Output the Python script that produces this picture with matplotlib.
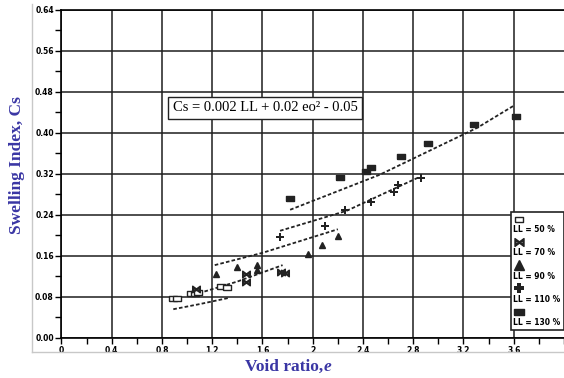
import matplotlib.pyplot as plt
from matplotlib.lines import Line2D
from matplotlib.ticker import MultipleLocator, FixedLocator

# data: void ratio e and swelling index Cs
ll50_e = [0.89, 0.92, 1.03, 1.06, 1.09, 1.27, 1.32]
ll50_cs = [0.078, 0.078, 0.088, 0.088, 0.090, 0.102, 0.099]

ll70_e = [1.07, 1.47, 1.47, 1.75, 1.78]
ll70_cs = [0.096, 0.125, 0.110, 0.129, 0.127]

ll90_e = [1.23, 1.40, 1.56, 1.56, 1.96, 2.07, 2.20]
ll90_cs = [0.124, 0.139, 0.143, 0.133, 0.164, 0.181, 0.199]

ll110_e = [1.74, 2.10, 2.26, 2.46, 2.65, 2.68, 2.86]
ll110_cs = [0.197, 0.219, 0.249, 0.265, 0.284, 0.299, 0.312]

ll130_e = [1.82, 2.22, 2.42, 2.46, 2.70, 2.92, 3.28, 3.62]
ll130_cs = [0.273, 0.314, 0.325, 0.333, 0.355, 0.381, 0.418, 0.433]

# dashed trend lines
fit50_e = [0.89, 1.10, 1.33]
fit50_cs = [0.056, 0.066, 0.078]
fit70_e = [1.05, 1.40, 1.76]
fit70_cs = [0.084, 0.110, 0.142]
fit90_e = [1.22, 1.60, 2.20]
fit90_cs = [0.142, 0.166, 0.212]
fit110_e = [1.74, 2.27, 2.85]
fit110_cs = [0.209, 0.248, 0.314]
fit130_e = [1.82, 2.53, 3.31, 3.60]
fit130_cs = [0.250, 0.318, 0.410, 0.453]

legend_labels = ['LL = 50 %', 'LL = 70 %', 'LL = 90 %', 'LL = 110 %', 'LL = 130 %']

rect = [(-1, -0.6), (1, -0.6), (1, 0.6), (-1, 0.6), (-1, -0.6)]
label_color = '#3a36a4'

fig = plt.figure(figsize=(5.64, 3.78), dpi=100)
ax = fig.add_axes([0.109, 0.106, 0.891, 0.868])

# light frame of the scanned picture
fig.add_artist(Line2D([0.057, 0.057], [0.07, 0.99], color='#c8c8c8', lw=1.0,
                      transform=fig.transFigure))
fig.add_artist(Line2D([0.057, 1.0], [0.07, 0.07], color='#c8c8c8', lw=1.0,
                      transform=fig.transFigure))

ax.set_xlim(0, 4.0)
ax.set_ylim(0, 0.64)
ax.xaxis.set_major_locator(FixedLocator([0, 0.4, 0.8, 1.2, 1.6, 2.0, 2.4, 2.8, 3.2, 3.6]))
ax.set_xticklabels(['0', '0.4', '0.8', '1.2', '1.6', '2', '2.4', '2.8', '3.2', '3.6'])
ax.xaxis.set_minor_locator(MultipleLocator(0.2))
ax.yaxis.set_major_locator(MultipleLocator(0.08))
ax.yaxis.set_minor_locator(MultipleLocator(0.04))
ax.set_yticklabels(['%.2f' % v for v in ax.get_yticks()])
ax.grid(True, which='major', color='#1e1e1e', lw=1.1)
ax.set_axisbelow(True)
ax.spines['right'].set_visible(False)
for s in ['left', 'bottom', 'top']:
    ax.spines[s].set_linewidth(1.2)
ax.tick_params(which='both', direction='out', length=4, width=1.0, pad=1.5,
               labelsize=5.5)
for lbl in ax.get_xticklabels() + ax.get_yticklabels():
    lbl.set_fontweight('bold')

dash = dict(color='#222222', lw=1.3, ls=(0, (2, 1.2)))
for fe, fc in [(fit50_e, fit50_cs), (fit70_e, fit70_cs), (fit90_e, fit90_cs),
               (fit110_e, fit110_cs), (fit130_e, fit130_cs)]:
    ax.plot(fe, fc, **dash)

ax.plot(ll50_e, ll50_cs, ls='none', marker=rect, ms=6, mfc='white', mec='#222222', mew=1.0)
ax.plot(ll70_e, ll70_cs, ls='none', marker='$\\bowtie$', ms=5.5, color='#222222')
ax.plot(ll90_e, ll90_cs, ls='none', marker='^', ms=5, color='#222222')
ax.plot(ll110_e, ll110_cs, ls='none', marker='P', ms=5.5, color='#222222', mew=0)
ax.plot(ll130_e, ll130_cs, ls='none', marker=rect, ms=6, color='#222222')

ax.text(1.62, 0.449, 'Cs = 0.002 LL + 0.02 eo² - 0.05', fontsize=10.5,
        family='Liberation Serif', ha='center', va='center',
        bbox=dict(boxstyle='square,pad=0.3', fc='white', ec='#222222', lw=1.0))

# legend drawn as in the original: symbol above each label
lx0, ly0, lx1, ly1 = 0.895, 0.024, 1.0, 0.384
ax.add_patch(plt.Rectangle((lx0, ly0), lx1 - lx0, ly1 - ly0, transform=ax.transAxes,
                           fc='white', ec='#222222', lw=1.2, zorder=5, clip_on=False))
marks = [dict(marker=rect, ms=6, mfc='white', mec='#222222'),
         dict(marker='$\\bowtie$', ms=6.5, color='#222222'),
         dict(marker='^', ms=7, color='#222222'),
         dict(marker='P', ms=6.5, color='#222222', mew=0),
         dict(marker=rect, ms=7, color='#222222')]
for i, (lab, mk) in enumerate(zip(legend_labels, marks)):
    ym = 0.364 - i * 0.071
    ax.plot([lx0 + 0.015], [ym], ls='none', transform=ax.transAxes, zorder=6,
            clip_on=False, **mk)
    ax.text(lx0 + 0.004, ym - 0.034, lab, transform=ax.transAxes, fontsize=5.5,
            fontweight='bold', ha='left', va='center', zorder=6)

fig.text(0.03, 0.563, 'Swelling Index, Cs', rotation=90, ha='center', va='center',
         family='Liberation Serif', fontweight='bold', fontsize=12.5, color=label_color)
fig.text(0.573, 0.03, 'Void ratio,', ha='right', va='center',
         family='Liberation Serif', fontweight='bold', fontsize=12.5, color=label_color)
fig.text(0.573, 0.03, 'e', ha='left', va='center', family='Liberation Serif',
         fontweight='bold', style='italic', fontsize=12.5, color=label_color)

fig.savefig('out.png', dpi=100)
